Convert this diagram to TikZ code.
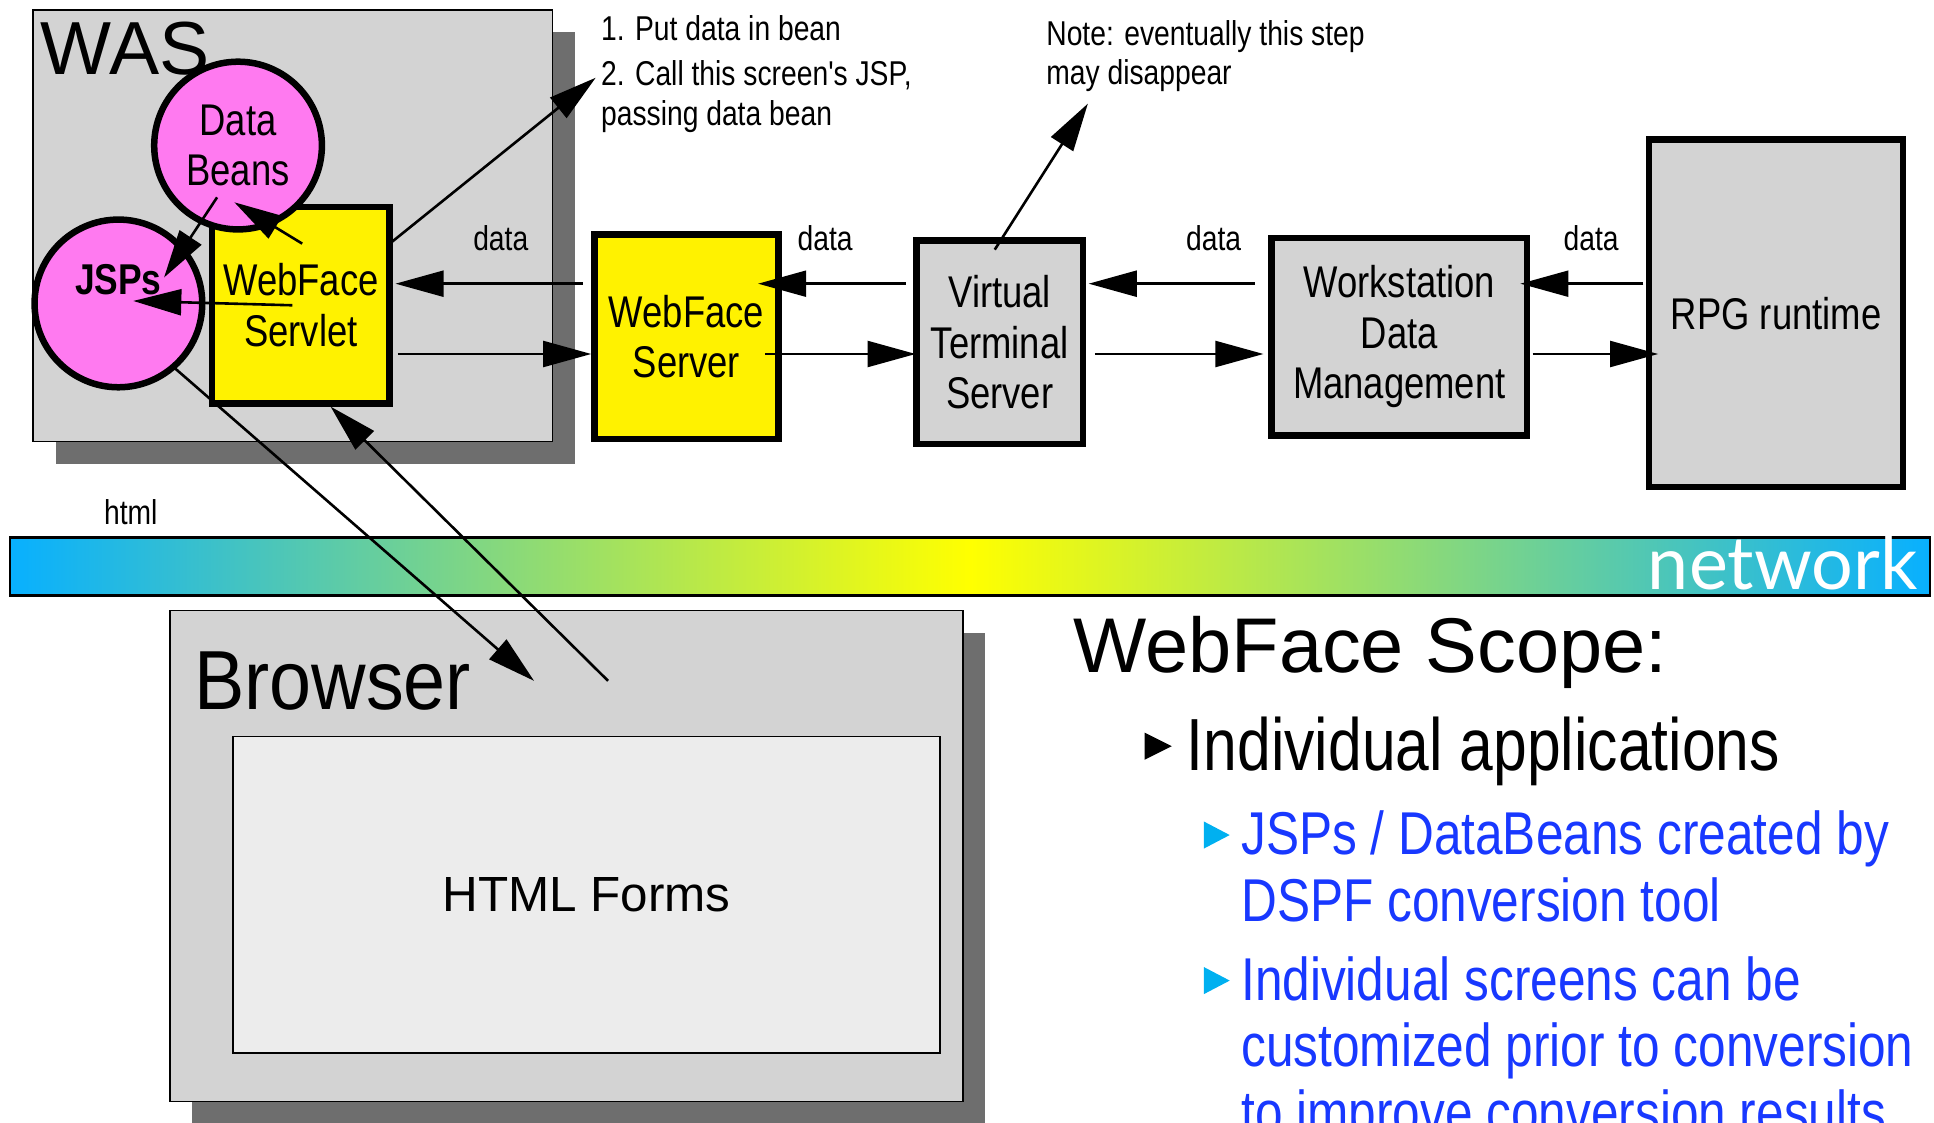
\documentclass[tikz,border=0pt]{standalone}
\usepackage{fontspec}
\setmainfont{Liberation Sans}
\newfontfamily\narrowfont[FakeStretch=0.82]{Liberation Sans}
\newfontfamily\titlefont[FakeStretch=0.9]{Liberation Sans}
\newfontfamily\netfont{Lato}
\usetikzlibrary{arrows.meta, shadows, calc}
\newcommand{\fsz}[2]{\fontsize{#1}{#2}\selectfont}
\definecolor{boxgray}{RGB}{211,211,211}
\definecolor{shadowgray}{RGB}{110,110,110}
\definecolor{formgray}{RGB}{236,236,236}
\definecolor{beanpink}{RGB}{255,122,240}
\definecolor{netcyan}{RGB}{8,176,255}
\definecolor{scopeblue}{RGB}{24,56,255}
\definecolor{bulletcyan}{RGB}{0,176,240}

\begin{document}
\begin{tikzpicture}[
    x=0.02cm, y=-0.02cm,
    box/.style={draw, line width=3pt, align=center, font=\narrowfont\fsz{20.5pt}{23.3pt}},
    bean/.style={circle, draw, line width=3pt, fill=beanpink, minimum size=2.72cm, inner sep=0pt, align=center},
    panel/.style={draw, line width=0.8pt, fill=boxgray, drop shadow={shadow xshift=0.36cm, shadow yshift=-0.36cm, fill=shadowgray, opacity=1}},
    arr/.style={-{Triangle[length=0.78cm, width=0.42cm]}, line width=1.2pt},
    lbl/.style={font=\narrowfont\fsz{15.9pt}{18.2pt}, align=left},
]
    \useasboundingbox (0,0) rectangle (1568,910);
    \clip (0,0) rectangle (1568,910);

    % WAS panel
    \node[panel, minimum width=8.42cm, minimum height=7cm] (was) at (237.5,183) {};
    \node[anchor=base west, font=\fsz{34.7pt}{36pt}] (wastxt) at (27,60) {WAS};

    % Servlet, beans and JSPs
    \node[box, fill=yellow, minimum width=2.88cm, minimum height=3.18cm] (servlet) at (244,247.5) {WebFace\\Servlet};
    \node[bean, font=\narrowfont\fsz{20.5pt}{23.3pt}] (beans) at (193,118) {Data\\Beans};
    \node[bean, label={[font=\narrowfont\bfseries\fsz{19.9pt}{22pt}, yshift=0.38cm]center:JSPs}] (jsps) at (96,246) {};

    % Server chain
    \node[box, fill=yellow, minimum width=2.98cm, minimum height=3.32cm] (srv) at (556.5,273) {WebFace\\Server};
    \node[box, fill=boxgray, minimum width=2.7cm, minimum height=3.3cm] (vts) at (810.5,277.5) {Virtual\\Terminal\\Server};
    \node[box, fill=boxgray, minimum width=4.14cm, minimum height=3.2cm] (wdm) at (1134.5,273) {Workstation\\Data\\Management};
    \node[box, fill=boxgray, minimum width=4.12cm, minimum height=5.64cm] (rpg) at (1440,254) {RPG runtime};

    % Labels
    \node[lbl] (data1) at (406,193) {data};
    \node[lbl] (data2) at (669,193) {data};
    \node[lbl] (data3) at (984,193) {data};
    \node[lbl] (data4) at (1290,193) {data};
    \node[lbl] (html) at (106,415) {html};
    \node[lbl, anchor=north west, inner sep=0pt] (steps) at (487,12) {1. Put data in bean\\[2.8pt]2. Call this screen's JSP,\\passing data bean};
    \node[lbl, anchor=north west, inner sep=0pt] (note) at (848,16) {Note: eventually this step\\may disappear};

    % Network bar
    \node[draw, line width=1.2pt, left color=netcyan, right color=netcyan, middle color=yellow, minimum width=31.14cm, minimum height=0.94cm, inner sep=0pt] (net) at (786.5,459.5) {};
    \node[anchor=base east, text=white, font=\netfont\fsz{34pt}{34pt}, inner sep=0pt] (nettxt) at (1555,478) {network};

    % Browser panel
    \node[panel, minimum width=12.86cm, minimum height=7.96cm] (browser) at (459.5,694) {};
    \node[anchor=base west, font=\titlefont\fsz{38.7pt}{40pt}, inner sep=0pt] (browsertxt) at (157,575) {Browser};
    \node[draw, line width=0.8pt, fill=formgray, minimum width=11.46cm, minimum height=5.14cm, font=\fsz{22.8pt}{24pt}] (forms) at (475.5,725.5) {HTML Forms};

    % Scope text
    \node[anchor=base west, font=\fsz{35.8pt}{38pt}, inner sep=0pt] (scope) at (870,545) {WebFace Scope:};
    \fill (928,594) -- (950,605) -- (928,616) -- cycle;
    \node[anchor=base west, font=\narrowfont\fsz{34.1pt}{36pt}, inner sep=0pt] (apps) at (962,625) {Individual applications};
    \fill[bulletcyan] (976,666) -- (997,677) -- (976,688) -- cycle;
    \node[anchor=north west, align=left, text=scopeblue, font=\narrowfont\fsz{27.9pt}{30.7pt}, inner sep=0pt] (tool) at (1006,657) {JSPs / DataBeans created by\\DSPF conversion tool};
    \fill[bulletcyan] (976,784) -- (997,795) -- (976,806) -- cycle;
    \node[anchor=north west, align=left, text=scopeblue, font=\narrowfont\fsz{27.9pt}{30.7pt}, inner sep=0pt] (custom) at (1006,775) {Individual screens can be\\customized prior to conversion\\to improve conversion results};

    % Free ends
    \coordinate (hi) at (0,230);
    \coordinate (lo) at (0,287);
    \coordinate (calltip) at (483,63);
    \coordinate (notetip) at (882,84);
    \coordinate (htmlin) at (433,552);
    \coordinate (formsout) at (493,552);

    % Arrows inside WAS
    \draw[arr] ($(servlet.center)+(1,-50)$) -- ($(beans.center)+(-3,46)$);
    \draw[arr] ($(beans.center)+(-17,42)$) -- ($(jsps.center)+(37,-21)$);
    \draw[arr] ($(servlet.center)+(-7,0)$) -- ($(jsps.center)+(12,-2)$);
    \draw[arr] ($(servlet.center)+(72,-50)$) -- (calltip);

    % Data arrows
    \draw[arr] ($(srv.west |- hi)+(-7,0)$) -- ($(servlet.east |- hi)+(2,0)$);
    \draw[arr] ($(servlet.east |- lo)+(4,0)$) -- (srv.west |- lo);
    \draw[arr] ($(vts.west |- hi)+(-6,0)$) -- ($(srv.east |- hi)+(-19,0)$);
    \draw[arr] ($(srv.east |- lo)+(-13,0)$) -- ($(vts.west |- lo)+(2,0)$);
    \draw[arr] ($(wdm.west |- hi)+(-11,0)$) -- ($(vts.east |- hi)+(2,0)$);
    \draw[arr] ($(vts.east |- lo)+(7,0)$) -- ($(wdm.west |- lo)+(-4,0)$);
    \draw[arr] ($(rpg.west |- hi)+(-2,0)$) -- ($(wdm.east |- hi)+(-8,0)$);
    \draw[arr] ($(wdm.east |- lo)+(2,0)$) -- ($(rpg.west |- lo)+(10,0)$);
    \draw[arr] ($(vts.north)+(-4,10)$) -- (notetip);

    % html arrows
    \draw[arr] ($(jsps.center)+(44,51)$) -- (htmlin);
    \draw[arr] (formsout) -- ($(servlet.south)+(24,0)$);
\end{tikzpicture}
\end{document}
